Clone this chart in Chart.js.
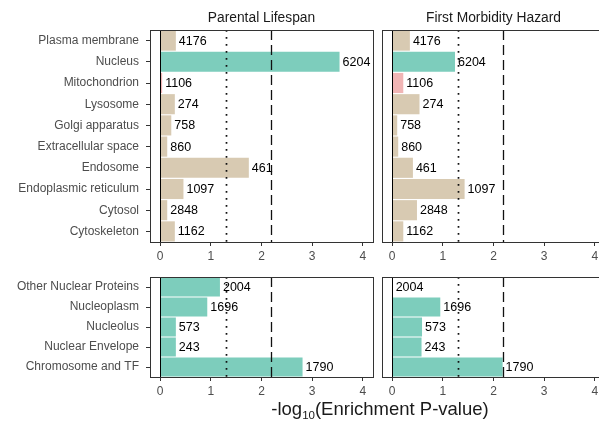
<!DOCTYPE html>
<html><head><meta charset="utf-8">
<script src="https://cdn.jsdelivr.net/npm/chart.js@4"></script>
<style>
html,body{margin:0;padding:0;background:#fff;overflow:hidden;width:599px;height:425px;position:relative;}
canvas{position:absolute;}
#xt{position:absolute;left:0;width:760px;top:398px;text-align:center;font:18.5px "Liberation Sans",Arial,sans-serif;color:#1a1a1a;white-space:nowrap;}
#xt sub{font-size:11.5px;vertical-align:-4px;line-height:0;}
</style></head><body>
<canvas id="c1" width="380" height="264" style="left:0;top:0"></canvas>
<canvas id="c2" width="240" height="264" style="left:372px;top:0"></canvas>
<canvas id="c3" width="380" height="150" style="left:0;top:250px"></canvas>
<canvas id="c4" width="240" height="150" style="left:372px;top:250px"></canvas>
<div id="xt">-log<sub>10</sub>(Enrichment P-value)</div>
<script>
const topCategories = ['Plasma membrane','Nucleus','Mitochondrion','Lysosome','Golgi apparatus','Extracellular space','Endosome','Endoplasmic reticulum','Cytosol','Cytoskeleton'];
const bottomCategories = ['Other Nuclear Proteins','Nucleoplasm','Nucleolus','Nuclear Envelope','Chromosome and TF'];
const topCounts = [4176,6204,1106,274,758,860,461,1097,2848,1162];
const bottomCounts = [2004,1696,573,243,1790];
const parentalTop = [0.31,3.54,0.04,0.29,0.22,0.14,1.75,0.46,0.14,0.29];
const morbidityTop = [0.35,1.24,0.22,0.54,0.10,0.12,0.41,1.43,0.49,0.22];
const parentalBottom = [1.18,0.93,0.31,0.31,2.81];
const morbidityBottom = [0.01,0.95,0.59,0.58,2.18];
const topGroups = ['other','nuclear','depleted','other','other','other','other','other','other','other'];
const bottomGroups = ['nuclear','nuclear','nuclear','nuclear','nuclear'];
const panelTitles = ['Parental Lifespan','First Morbidity Hazard'];
const xTicks = [0,1,2,3,4];
const nominalThreshold = 1.3;
const correctedThreshold = 2.18;

const groupColors = {other:'#D8CAB2', nuclear:'#7DCDBC', depleted:'#F1B5B5'};
const FONT = '"Liberation Sans", Arial, Helvetica, sans-serif';
Chart.defaults.font.family = FONT;

const panelDecor = {
  id:'panelDecor',
  afterDatasetsDraw(chart, args, opts){
    const {ctx, chartArea:a, scales:{x}} = chart;
    const meta = chart.getDatasetMeta(0);
    ctx.save();
    ctx.font = '12.5px ' + FONT;
    ctx.fillStyle = '#000';
    ctx.textBaseline = 'middle';
    ctx.textAlign = 'left';
    meta.data.forEach((bar,i)=>{ ctx.fillText(String(opts.counts[i]), bar.x + 3, bar.y + 0.5); });
    const line = (v,dash,w,col)=>{
      const px = Math.round(x.getPixelForValue(v)) + 0.5;
      ctx.strokeStyle = col; ctx.lineWidth = w; ctx.setLineDash(dash);
      ctx.beginPath(); ctx.moveTo(px, a.top); ctx.lineTo(px, a.bottom); ctx.stroke();
    };
    line(0, [], 1, '#000');
    line(nominalThreshold, [1.8,5.2], 1.7, '#111');
    line(correctedThreshold, [10,5], 1.3, '#111');
    ctx.setLineDash([]);
    ctx.strokeStyle = '#333'; ctx.lineWidth = 1;
    ctx.strokeRect(Math.round(a.left)+0.5, Math.round(a.top)+0.5, Math.round(a.right-a.left), Math.round(a.bottom-a.top));
    if (opts.title){
      ctx.font = '13.8px ' + FONT;
      ctx.fillStyle = '#1a1a1a';
      ctx.textAlign = 'center';
      ctx.fillText(opts.title, (a.left + a.right)/2, a.top - 12);
    }
    ctx.restore();
  }
};

function makeChart(id, labels, values, groups, counts, title, showY, padTop, xh){
  return new Chart(document.getElementById(id), {
    type:'bar',
    data:{labels, datasets:[{data:values, backgroundColor:groups.map(g=>groupColors[g]), barPercentage:0.95, categoryPercentage:1, borderWidth:0}]},
    options:{
      indexAxis:'y', responsive:false, animation:false, events:[],
      layout:{padding:{top:padTop, right:7, left:showY?0:10, bottom:0}},
      plugins:{legend:{display:false}, tooltip:{enabled:false}, panelDecor:{counts, title}},
      scales:{
        x:{type:'linear', min:-0.2, max:4.2,
           afterBuildTicks:s=>{ s.ticks = xTicks.map(v=>({value:v})); },
           afterFit:s=>{ s.height = xh; },
           grid:{drawOnChartArea:false, drawTicks:true, tickLength:4, color:'#333'},
           border:{display:false},
           ticks:{color:'#4d4d4d', font:{size:12}, padding:3, maxRotation:0}},
        y:{display:showY,
           afterFit:s=>{ s.width = showY ? 150 : 0; },
           grid:{drawOnChartArea:false, drawTicks:true, tickLength:4, color:'#333', offset:false},
           border:{display:false},
           ticks:{color:'#4d4d4d', font:{size:12}, padding:7, autoSkip:false}}
      }
    },
    plugins:[panelDecor]
  });
}

makeChart('c1', topCategories, parentalTop, topGroups, topCounts, panelTitles[0], true, 30, 22);
makeChart('c2', topCategories, morbidityTop, topGroups, topCounts, panelTitles[1], false, 30, 22);
makeChart('c3', bottomCategories, parentalBottom, bottomGroups, bottomCounts, null, true, 27, 23);
makeChart('c4', bottomCategories, morbidityBottom, bottomGroups, bottomCounts, null, false, 27, 23);
</script>
</body></html>
